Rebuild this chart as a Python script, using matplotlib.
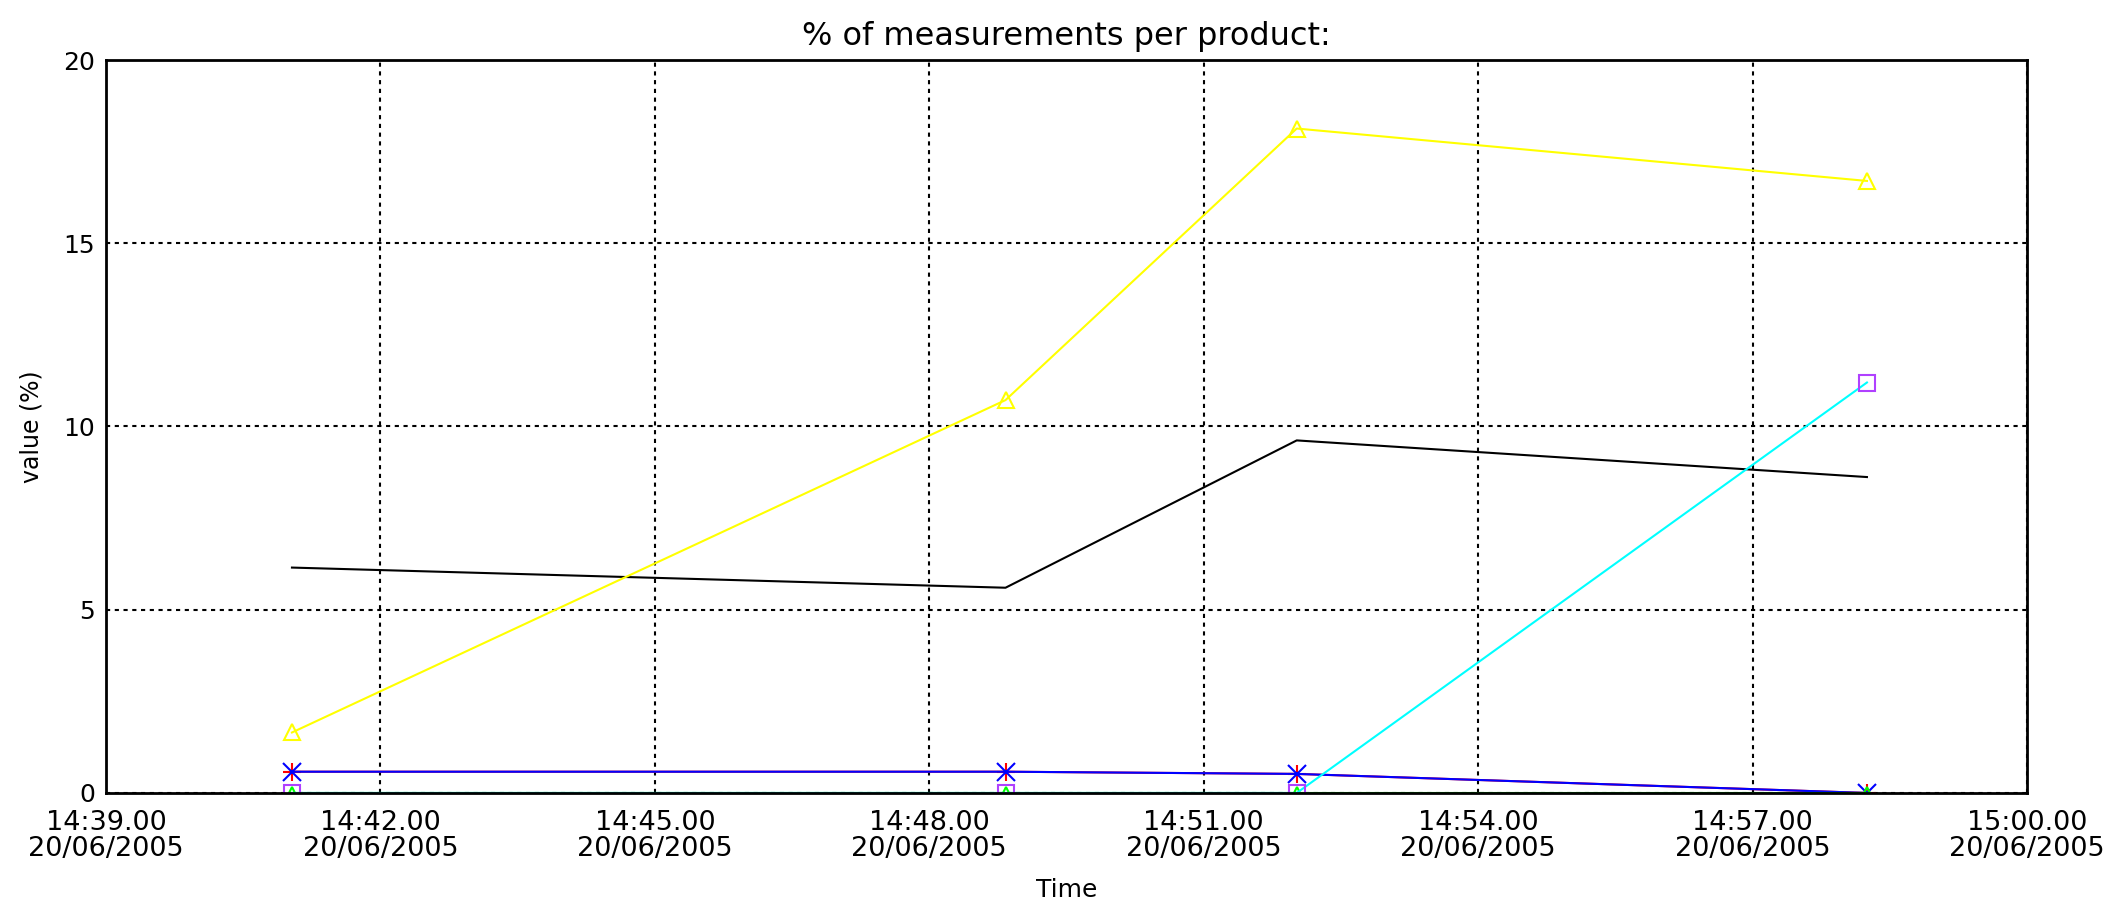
import datetime as dt
import matplotlib
matplotlib.use("Agg")
import matplotlib.pyplot as plt
import matplotlib.dates as mdates

# Sample times (20/06/2005)
times = ["14:41:02", "14:48:50", "14:52:01", "14:58:15"]

# Percentage of measurements per product at each sample time
yellow_vals = [1.65, 10.72, 18.13, 16.70]
black_vals = [6.15, 5.60, 9.62, 8.62]
red_vals = [0.58, 0.58, 0.52, 0.0]
blue_vals = [0.58, 0.58, 0.52, 0.0]
green_vals = [0.0, 0.0, 0.0, 0.0]
cyan_vals = [0.0, 0.0, 0.0, 11.2]

x_start = "14:39:00"
x_end = "15:00:00"
y_ticks = [0, 5, 10, 15, 20]

day = dt.date(2005, 6, 20)


def stamp(s):
    h, m, sec = (int(v) for v in s.split(":"))
    return dt.datetime.combine(day, dt.time(h, m, sec))


t = [stamp(s) for s in times]

plt.rcParams["font.family"] = ["DejaVu Sans"]

fig = plt.figure(figsize=(21.19, 9.05), dpi=100)
ax = fig.add_axes([0.0500, 0.1238, 0.9066, 0.8099])

lw = 1.5
ax.plot(t, black_vals, color="black", lw=lw, zorder=2.0)
ax.plot(t, yellow_vals, color="#ffff00", lw=lw, marker="^", ms=12,
        mfc="none", mec="#ffff00", mew=1.5, zorder=2.1)
ax.plot(t, red_vals, color="#ff0000", lw=lw, marker="+", ms=13,
        mec="#ff0000", mew=1.5, zorder=2.2)
ax.plot(t, blue_vals, color="#0000ff", lw=lw, marker="x", ms=13,
        mec="#0000ff", mew=1.5, zorder=2.3)
ax.plot(t, green_vals, color="#00ff00", lw=lw, marker="^", ms=8,
        mfc="none", mec="#00ff00", mew=1.5, zorder=2.35)
ax.plot(t, cyan_vals, color="#00ffff", lw=lw, marker="s", ms=12,
        mfc="none", mec="#b040ff", mew=1.5, zorder=2.4)

ax.set_xlim(stamp(x_start), stamp(x_end))
ax.set_ylim(y_ticks[0], y_ticks[-1])
ax.set_yticks(y_ticks)
ax.xaxis.set_major_locator(mdates.MinuteLocator(byminute=range(0, 60, 3)))
ax.xaxis.set_major_formatter(mdates.DateFormatter("%H:%M.%S\n%d/%m/%Y"))

ax.grid(True, color="black", linestyle=(0, (2, 2.2)), lw=1.5)
ax.set_axisbelow(True)
for sp in ax.spines.values():
    sp.set_linewidth(2)
    sp.set_color("black")

ax.tick_params(axis="both", length=0)
ax.tick_params(axis="x", pad=12, labelsize=19.5)
ax.tick_params(axis="y", pad=8, labelsize=18)
for lab in ax.get_xticklabels():
    lab.set_linespacing(1.0)

ax.set_title("% of measurements per product:", fontsize=23, pad=11)
ax.set_xlabel("Time", fontsize=18, labelpad=12)
ax.set_ylabel("value (%)", fontsize=17, labelpad=14)

fig.savefig("out.png", dpi=100, facecolor="white")
